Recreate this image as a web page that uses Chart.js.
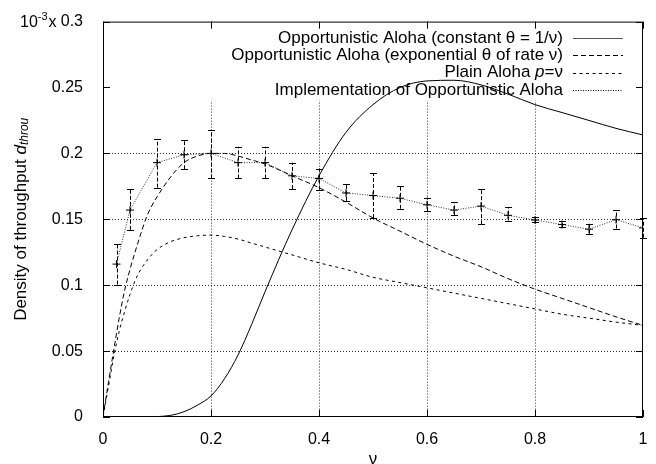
<!DOCTYPE html>
<html>
<head>
<meta charset="utf-8">
<script src="https://cdn.jsdelivr.net/npm/chart.js@4/dist/chart.umd.min.js"></script>
<style>
  html, body { margin: 0; padding: 0; background: #fff; }
  #wrap { width: 656px; height: 464px; }
</style>
</head>
<body>
<div id="wrap"><canvas id="chart" width="656" height="464"></canvas></div>
<script>
// curves sampled on a common nu grid
let nu = [0, 0.01, 0.02, 0.03, 0.04, 0.05, 0.06, 0.07, 0.08, 0.09, 0.1, 0.125, 0.15, 0.175,
  0.2, 0.225, 0.25, 0.275, 0.3, 0.35, 0.4, 0.45, 0.5, 0.55, 0.6, 0.65, 0.7, 0.75, 0.8, 0.85, 0.9, 0.95, 1];
let constTheta = [0, 0, 0, 0, 0, 0, 0, 0, 0, 0, 0.0003, 0.0012, 0.004, 0.009,
  0.016, 0.029, 0.047, 0.07, 0.095, 0.142, 0.183, 0.216, 0.237, 0.25, 0.255, 0.2555, 0.252, 0.245, 0.237, 0.231, 0.225, 0.219, 0.214];
let expTheta = [0, 0.026, 0.051, 0.075, 0.096, 0.112, 0.126, 0.139, 0.151, 0.16, 0.167, 0.182, 0.193, 0.198,
  0.2, 0.2, 0.198, 0.195, 0.192, 0.183, 0.174, 0.163, 0.151, 0.141, 0.131, 0.122, 0.114, 0.105, 0.097, 0.09, 0.083, 0.076, 0.0695];
let plainAloha = [0, 0.023, 0.046, 0.065, 0.08, 0.093, 0.104, 0.112, 0.118, 0.123, 0.127, 0.133, 0.136, 0.1375,
  0.138, 0.137, 0.135, 0.132, 0.129, 0.123, 0.117, 0.112, 0.106, 0.102, 0.098, 0.094, 0.09, 0.086, 0.082, 0.078, 0.075, 0.072, 0.0695];

// implementation (simulation) with error bars
let implNu   = [0.025, 0.05, 0.1, 0.15, 0.2, 0.25, 0.3, 0.35, 0.4, 0.45, 0.5, 0.55, 0.6, 0.65, 0.7, 0.75, 0.8, 0.85, 0.9, 0.95, 1];
let implMean = [0.116, 0.157, 0.193, 0.199, 0.2, 0.193, 0.193, 0.183, 0.181, 0.17, 0.168, 0.166, 0.161, 0.157, 0.16, 0.153, 0.1495, 0.146, 0.1425, 0.1497, 0.1435];
let implLo   = [0.1005, 0.142, 0.174, 0.188, 0.181, 0.181, 0.181, 0.173, 0.1725, 0.164, 0.151, 0.158, 0.156, 0.153, 0.1463, 0.149, 0.148, 0.144, 0.139, 0.143, 0.136];
let implHi   = [0.1316, 0.173, 0.211, 0.21, 0.218, 0.205, 0.205, 0.193, 0.1885, 0.177, 0.185, 0.175, 0.1665, 0.163, 0.173, 0.159, 0.152, 0.1485, 0.1467, 0.157, 0.151];

let xTicks = [0, 0.2, 0.4, 0.6, 0.8, 1];
let yTicks = [0, 0.05, 0.1, 0.15, 0.2, 0.25, 0.3];

let legendLabels = [
  [["Opportunistic Aloha (constant θ = 1/ν)", ""]],
  [["Opportunistic Aloha (exponential θ of rate ν)", ""]],
  [["Plain Aloha ", ""], ["p", "italic"], ["=ν", ""]],
  [["Implementation of Opportunistic Aloha", ""]]
];
let legendDash = [[], [5, 3], [3, 3.5], [1, 1.5]];

const FONT = '"Liberation Sans", Arial, sans-serif';

function pts(xs, ys) {
  return xs.map((x, i) => ({ x: x, y: ys[i] }));
}

function drawRich(ctx, parts, x, y, size, align) {
  let w = 0;
  parts.forEach(p => {
    ctx.font = (p[1] ? p[1] + " " : "") + size + "px " + FONT;
    w += ctx.measureText(p[0]).width;
  });
  let cx = align === "right" ? x - w : (align === "center" ? x - w / 2 : x);
  ctx.textAlign = "left";
  parts.forEach(p => {
    ctx.font = (p[1] ? p[1] + " " : "") + size + "px " + FONT;
    ctx.fillText(p[0], cx, y);
    cx += ctx.measureText(p[0]).width;
  });
}

let decor = {
  id: "decor",
  beforeDatasetsDraw(chart) {
    let ctx = chart.ctx, a = chart.chartArea;
    let xs = chart.scales.x, ys = chart.scales.y;
    ctx.save();
    ctx.strokeStyle = "#333";
    ctx.lineWidth = 1;
    ctx.setLineDash([1, 2]);
    xTicks.forEach(v => {
      if (v <= 0 || v >= 1) return;
      let px = Math.round(xs.getPixelForValue(v)) + 0.5;
      ctx.beginPath(); ctx.moveTo(px, a.top); ctx.lineTo(px, a.bottom); ctx.stroke();
    });
    yTicks.forEach(v => {
      if (v <= 0 || v >= 0.3) return;
      let py = Math.round(ys.getPixelForValue(v)) + 0.5;
      ctx.beginPath(); ctx.moveTo(a.left, py); ctx.lineTo(a.right, py); ctx.stroke();
    });
    // key area hides the grid
    ctx.fillStyle = "#fff";
    ctx.fillRect(a.left + 1, a.top, a.right - a.left - 2, 79);
    ctx.restore();
  },
  afterDatasetsDraw(chart) {
    let ctx = chart.ctx, a = chart.chartArea;
    let xs = chart.scales.x, ys = chart.scales.y;
    ctx.save();
    ctx.strokeStyle = "#000";
    ctx.lineWidth = 1;

    // error bars
    implNu.forEach((v, i) => {
      let px = Math.round(xs.getPixelForValue(v)) + 0.5;
      let lo = ys.getPixelForValue(implLo[i]);
      let hi = ys.getPixelForValue(implHi[i]);
      ctx.setLineDash([4, 2]);
      ctx.beginPath(); ctx.moveTo(px, lo); ctx.lineTo(px, hi); ctx.stroke();
      ctx.setLineDash([]);
      ctx.beginPath();
      ctx.moveTo(px - 3.5, Math.round(lo) + 0.5); ctx.lineTo(px + 3.5, Math.round(lo) + 0.5);
      ctx.moveTo(px - 3.5, Math.round(hi) + 0.5); ctx.lineTo(px + 3.5, Math.round(hi) + 0.5);
      ctx.stroke();
    });

    // border and inward ticks
    ctx.setLineDash([]);
    ctx.strokeRect(a.left + 0.5, a.top + 0.5, a.right - a.left - 1, a.bottom - a.top - 1);
    ctx.beginPath();
    xTicks.forEach(v => {
      let px = Math.round(xs.getPixelForValue(v)) + 0.5;
      ctx.moveTo(px, a.bottom); ctx.lineTo(px, a.bottom - 7);
      ctx.moveTo(px, a.top); ctx.lineTo(px, a.top + 7);
    });
    yTicks.forEach(v => {
      let py = Math.round(ys.getPixelForValue(v)) + 0.5;
      ctx.moveTo(a.left, py); ctx.lineTo(a.left + 7, py);
      ctx.moveTo(a.right, py); ctx.lineTo(a.right - 7, py);
    });
    ctx.stroke();

    // key
    ctx.fillStyle = "#000";
    ctx.textBaseline = "middle";
    legendLabels.forEach((parts, i) => {
      let y = 38 + i * 17.3;
      drawRich(ctx, parts, 563, y, 17, "right");
      ctx.setLineDash(legendDash[i]);
      ctx.strokeStyle = i === 0 ? "#555" : "#000";
      ctx.beginPath();
      ctx.moveTo(573, Math.round(y) + 0.5); ctx.lineTo(623, Math.round(y) + 0.5);
      ctx.stroke();
    });
    ctx.setLineDash([]);

    // 10^-3 x
    ctx.textBaseline = "alphabetic";
    ctx.font = "16px " + FONT;
    ctx.textAlign = "left";
    ctx.fillText("10", 20, 27);
    let w10 = ctx.measureText("10").width;
    ctx.font = "11px " + FONT;
    ctx.fillText("-3", 20 + w10, 20);
    let w3 = ctx.measureText("-3").width;
    ctx.font = "16px " + FONT;
    ctx.fillText("x", 21 + w10 + w3, 27);

    // x title
    ctx.textBaseline = "middle";
    ctx.textAlign = "center";
    ctx.font = "17px " + FONT;
    ctx.fillText("ν", (a.left + a.right) / 2, 459);

    // y title
    ctx.translate(21, (a.top + a.bottom) / 2);
    ctx.rotate(-Math.PI / 2);
    let parts = [["Density of throughput ", ""], ["d", "italic"]];
    ctx.font = "17px " + FONT;
    let w1 = ctx.measureText("Density of throughput ").width;
    ctx.font = "italic 17px " + FONT;
    let w2 = ctx.measureText("d").width;
    ctx.font = "italic 12px " + FONT;
    let w4 = ctx.measureText("throu").width;
    let sx = -(w1 + w2 + w4) / 2;
    drawRich(ctx, parts, sx, 0, 17, "left");
    ctx.font = "italic 12px " + FONT;
    ctx.textAlign = "left";
    ctx.fillText("throu", sx + w1 + w2, 4);
    ctx.restore();
  }
};

let ctx = document.getElementById("chart").getContext("2d");

let chart = new Chart(ctx, {
  type: "line",
  data: {
    datasets: [
      { data: pts(nu, constTheta), borderColor: "#000", borderWidth: 1, pointRadius: 0, cubicInterpolationMode: "monotone" },
      { data: pts(nu, expTheta), borderColor: "#000", borderWidth: 1, borderDash: [5, 3], pointRadius: 0, cubicInterpolationMode: "monotone" },
      { data: pts(nu, plainAloha), borderColor: "#000", borderWidth: 1, borderDash: [3, 3.5], pointRadius: 0, cubicInterpolationMode: "monotone" },
      { data: pts(implNu, implMean), borderColor: "#333", borderWidth: 1, borderDash: [1, 1.5], tension: 0,
        pointStyle: "cross", pointRadius: 4, pointBorderColor: "#000", pointBorderWidth: 1 }
    ]
  },
  options: {
    responsive: false,
    animation: false,
    layout: { padding: { top: 20, right: 13, left: 0, bottom: 0 } },
    plugins: { legend: { display: false }, tooltip: { enabled: false } },
    scales: {
      x: {
        type: "linear", min: 0, max: 1,
        grid: { display: false },
        border: { display: false },
        afterFit: s => { s.height = 47; },
        afterBuildTicks: s => { s.ticks = xTicks.map(v => ({ value: v })); },
        ticks: { color: "#000", padding: 5, font: { family: FONT, size: 16 }, maxRotation: 0,
          callback: v => String(v) }
      },
      y: {
        min: 0, max: 0.3,
        grid: { display: false },
        border: { display: false },
        afterFit: s => { s.width = 103; },
        afterBuildTicks: s => { s.ticks = yTicks.map(v => ({ value: v })); },
        ticks: { color: "#000", padding: 12, font: { family: FONT, size: 16 },
          callback: v => String(Number(v.toFixed(2))) }
      }
    }
  },
  plugins: [decor]
});
</script>
</body>
</html>
